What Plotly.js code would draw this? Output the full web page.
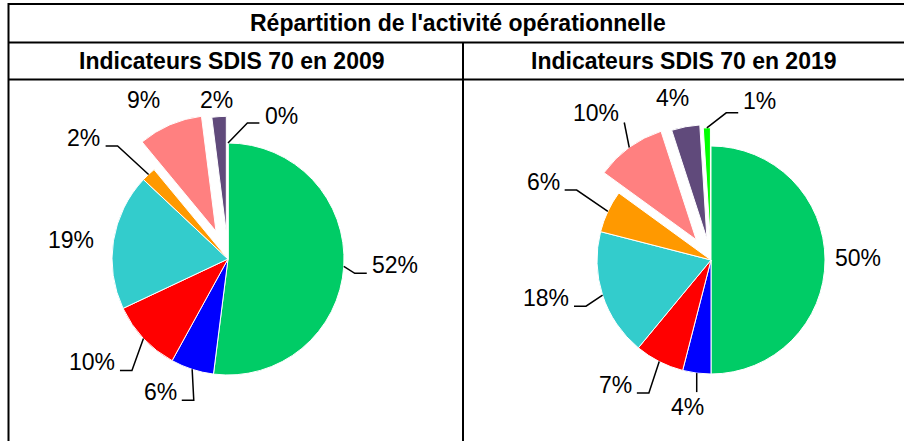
<!DOCTYPE html>
<html>
<head>
<meta charset="utf-8">
<script src="https://cdn.plot.ly/plotly-3.0.1.min.js"></script>
<style>
  html, body { margin: 0; padding: 0; background: #ffffff; }
  #chart { width: 904px; height: 441px; }
</style>
</head>
<body>
<div id="chart"></div>
<script>
// ---------- DATA ----------
const categories = ['Catégorie 1', 'Catégorie 2', 'Catégorie 3', 'Catégorie 4',
                    'Catégorie 5', 'Catégorie 6', 'Catégorie 7', 'Catégorie 8'];
const values2009 = [52, 6, 10, 19, 2, 9, 2, 0];
const values2019 = [50, 4, 7, 18, 6, 10, 4, 1];
const chartTitle = "Répartition de l'activité opérationnelle";
const panelTitles = ['Indicateurs SDIS 70 en 2009', 'Indicateurs SDIS 70 en 2019'];

// ---------- STYLE / LAYOUT ----------
const sliceColors = ['#00CC66', '#0000FF', '#FF0000', '#33CCCC', '#FF9900', '#FF8080', '#604A7B', '#00FF00'];
const W = 904, H = 441;
const FONT = 'Liberation Sans, Arial, sans-serif';
const FS = 23;
const px = x => x / W;
const py = y => 1 - y / H;

const pies = [
  { values: values2009, cx: 228, cy: 259, r: 116,
    pull: [0, 0, 0, 0, 0, 0.26, 0.23, 0],
    lab: [
      { d: [51, -1], lead: 'elbow' },
      { d: [-32, 23], lead: 'elbow' },
      { d: [-51.5, 24], lead: 'elbow' },
      { d: [-42, -1], lead: 'none' },
      { d: [-64.6, -36.5], lead: 'elbow' },
      { d: [-26, -25], lead: 'none' },
      { d: [-3, -17], lead: 'none' },
      { d: [53, -27], lead: 'elbow', ly: 7 }
    ] },
  { values: values2019, cx: 711, cy: 260, r: 114,
    pull: [0, 0, 0, 0, 0, 0.22, 0.19, 0.16],
    lab: [
      { d: [33, -2], lead: 'none' },
      { d: [-9, 34], lead: 'vertical' },
      { d: [-44, 23.5], lead: 'elbow' },
      { d: [-56.6, 3], lead: 'elbow' },
      { d: [-64.8, -29.4], lead: 'elbow' },
      { d: [-33, -34], lead: 'straight' },
      { d: [-12.6, -28.7], lead: 'none' },
      { d: [53, -27], lead: 'elbow', ly: 12 }
    ] }
];

const traces = [];
const annotations = [];
const shapes = [];

function pathFrom(points) {
  return points.map((p, i) => (i ? 'L' : 'M') + px(p[0]).toFixed(5) + ',' + py(p[1]).toFixed(5)).join(' ');
}

pies.forEach(p => {
  const maxPull = Math.max(...p.pull);
  const half = p.r * (1 + maxPull);
  traces.push({
    type: 'pie',
    values: p.values,
    labels: categories,
    sort: false,
    direction: 'clockwise',
    rotation: 0,
    pull: p.pull,
    marker: { colors: sliceColors, line: { color: '#ffffff', width: 1 } },
    textinfo: 'none',
    hoverinfo: 'none',
    showlegend: false,
    domain: { x: [px(p.cx - half), px(p.cx + half)], y: [py(p.cy + half), py(p.cy - half)] }
  });

  const total = p.values.reduce((a, b) => a + b, 0);
  let cum = 0;
  p.values.forEach((v, i) => {
    const mid = (cum + v / 2) / total * 2 * Math.PI;
    cum += v;
    const rr = p.r * (1 + p.pull[i]);
    const P = [p.cx + rr * Math.sin(mid), p.cy - rr * Math.cos(mid)];
    const cfg = p.lab[i];
    const L = [P[0] + cfg.d[0], P[1] + cfg.d[1]];
    const txt = Math.round(v / total * 100) + '%';
    annotations.push({
      xref: 'paper', yref: 'paper', x: px(L[0]), y: py(L[1]),
      xanchor: 'center', yanchor: 'middle', showarrow: false,
      text: txt, font: { family: FONT, size: FS, color: '#000000' }
    });
    const w = FS * (0.556 * (txt.length - 1) + 0.889);
    const ly = cfg.ly !== undefined ? cfg.ly : 8;
    const right = L[0] > P[0];
    let pts = null;
    if (cfg.lead === 'elbow') {
      const Hx = right ? L[0] - w / 2 - 5 : L[0] + w / 2 + 5;
      const Ex = right ? Hx - 12 : Hx + 12;
      pts = [P, [Ex, L[1] + ly], [Hx, L[1] + ly]];
    } else if (cfg.lead === 'straight') {
      const Hx = right ? L[0] - w / 2 - 5 : L[0] + w / 2 + 5;
      pts = [P, [Hx, L[1] + ly + 1]];
    } else if (cfg.lead === 'vertical') {
      pts = [P, [P[0], L[1] - 15]];
    }
    if (pts) {
      shapes.push({ type: 'path', xref: 'paper', yref: 'paper', path: pathFrom(pts),
                    line: { color: '#000000', width: 1.5 } });
    }
  });
});

// table frame
const tableLines = [
  [[8.5, 4], [W, 4]],
  [[8.5, 42.5], [W, 42.5]],
  [[8.5, 79.5], [W, 79.5]],
  [[8.5, 3], [8.5, H]],
  [[463, 42.5], [463, H]]
];
tableLines.forEach(l => {
  shapes.push({ type: 'line', xref: 'paper', yref: 'paper',
    x0: px(l[0][0]), y0: py(l[0][1]), x1: px(l[1][0]), y1: py(l[1][1]),
    line: { color: '#000000', width: 2 } });
});

annotations.push({
  xref: 'paper', yref: 'paper', x: px(458), y: py(23), xanchor: 'center', yanchor: 'middle',
  showarrow: false, text: '<b>' + chartTitle + '</b>', font: { family: FONT, size: FS, color: '#000000' }
});
[[232, 61], [684, 61]].forEach((c, i) => {
  annotations.push({
    xref: 'paper', yref: 'paper', x: px(c[0]), y: py(c[1]), xanchor: 'center', yanchor: 'middle',
    showarrow: false, text: '<b>' + panelTitles[i] + '</b>', font: { family: FONT, size: FS, color: '#000000' }
  });
});

const layout = {
  width: W, height: H,
  margin: { l: 0, r: 0, t: 0, b: 0, pad: 0 },
  paper_bgcolor: '#ffffff', plot_bgcolor: '#ffffff',
  showlegend: false,
  annotations: annotations,
  shapes: shapes
};

Plotly.newPlot('chart', traces, layout, { displayModeBar: false, staticPlot: true });
</script>
</body>
</html>
